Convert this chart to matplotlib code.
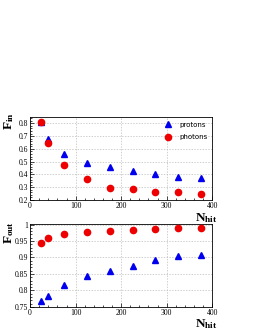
import matplotlib
matplotlib.use("Agg")
import matplotlib.pyplot as plt
from matplotlib.ticker import MultipleLocator

plt.rcParams["mathtext.fontset"] = "custom"
plt.rcParams["mathtext.rm"] = "Liberation Serif:bold"
plt.rcParams["mathtext.bf"] = "Liberation Serif:bold"
plt.rcParams["mathtext.it"] = "Liberation Serif:bold"

nhit = [25, 40, 75, 125, 175, 225, 275, 325, 375]

fin_protons = [0.81, 0.68, 0.56, 0.49, 0.46, 0.43, 0.40, 0.38, 0.37]
fin_photons = [0.81, 0.65, 0.475, 0.365, 0.29, 0.285, 0.265, 0.26, 0.245]

fout_protons = [0.768, 0.783, 0.817, 0.845, 0.860, 0.874, 0.893, 0.905, 0.907]
fout_photons = [0.945, 0.958, 0.972, 0.977, 0.979, 0.985, 0.987, 0.989, 0.990]

W, H = 255, 330
fig = plt.figure(figsize=(W / 100, H / 100), dpi=100)
ax1 = fig.add_axes([0.118, 0.394, 0.714, 0.2515])
ax2 = fig.add_axes([0.118, 0.070, 0.714, 0.2515])

for ax in (ax1, ax2):
    ax.set_xlim(0, 400)
    ax.xaxis.set_major_locator(MultipleLocator(100))
    ax.xaxis.set_minor_locator(MultipleLocator(20))
    ax.grid(True, which="major", color="#bbbbbb", linestyle=(0, (2, 2)), linewidth=0.5)
    ax.tick_params(which="both", direction="in", top=False, right=False, labelsize=5.5, pad=1.5)
    ax.tick_params(which="major", length=3, width=0.5)
    ax.tick_params(which="minor", length=1.5, width=0.5)
    for lab in ax.get_xticklabels() + ax.get_yticklabels():
        lab.set_family("Liberation Serif")
    for s in ax.spines.values():
        s.set_linewidth(0.6)

ax1.plot(nhit, fin_protons, "^", color="#0000ee", markersize=4.5, label="protons", zorder=3)
ax1.plot(nhit, fin_photons, "o", color="#ee0000", markersize=4.5, label="photons", zorder=3)
ax1.set_ylim(0.2, 0.85)
ax1.yaxis.set_major_locator(MultipleLocator(0.1))
ax1.yaxis.set_minor_locator(MultipleLocator(0.02))
for lab in ax1.get_yticklabels():
    lab.set_family("Liberation Serif")
ax1.legend(loc="upper right", frameon=False, fontsize=5, handletextpad=0.6,
           borderaxespad=0.3, labelspacing=0.9)

ax2.plot(nhit, fout_protons, "^", color="#0000ee", markersize=4.5, zorder=3)
ax2.plot(nhit, fout_photons, "o", color="#ee0000", markersize=4.5, zorder=3)
ax2.set_ylim(0.75, 1.002)
ax2.yaxis.set_minor_locator(MultipleLocator(0.01))
ax2.set_yticks([0.75, 0.8, 0.85, 0.9, 0.95, 1.0])
ax2.set_yticklabels(["0.75", "0.8", "0.85", "0.9", "0.95", "1"], family="Liberation Serif")

# axis titles placed like the ROOT canvas
lab_kw = dict(fontsize=9.5, family="Liberation Serif", fontweight="bold")
fig.text(2 / W, 1 - 112 / H, r"F$_{\mathrm{in}}$", rotation=90, ha="left", va="top", **lab_kw)
fig.text(2 / W, 1 - 221 / H, r"F$_{\mathrm{out}}$", rotation=90, ha="left", va="top", **lab_kw)
fig.text(218 / W, 1 - 211 / H, r"N$_{\mathrm{hit}}$", ha="right", va="top", **lab_kw)
fig.text(218 / W, 1 - 317 / H, r"N$_{\mathrm{hit}}$", ha="right", va="top", **lab_kw)

fig.savefig("out.png", dpi=100)
